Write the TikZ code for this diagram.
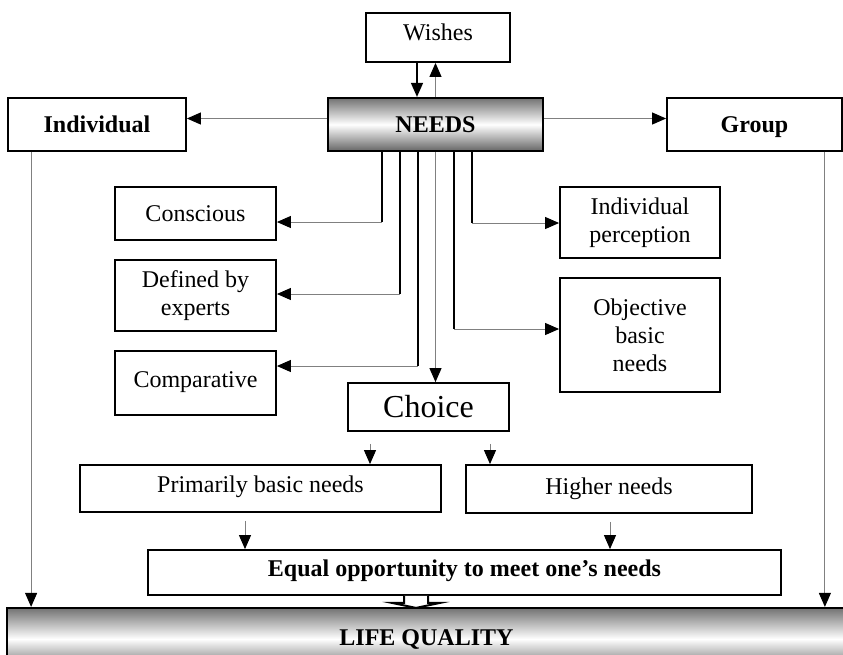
\documentclass[tikz,border=0pt]{standalone}
\usepackage{fontspec}
\setmainfont{Liberation Serif}
\usetikzlibrary{positioning}
\usetikzlibrary{shapes}
\usetikzlibrary{arrows.meta}
\usetikzlibrary{calc}

\begin{document}
\begin{tikzpicture}[x=0.5pt,y=-0.5pt,node distance=9pt,
testo/.style={draw,line width=0.9pt,align=center,inner sep=0pt,font=\fontsize{12}{14}\selectfont},
grassetto/.style={testo,font=\fontsize{12}{14}\selectfont\bfseries},
sfumato/.style={grassetto,top color=black!55,bottom color=black!60,middle color=white,line width=1.1pt},
freccia/.style={-{Triangle[length=7pt,width=6pt,color=black]}},
nero/.style={black,line width=0.75pt},
grigio/.style={black!50,line width=0.5pt}
]
\useasboundingbox (0,0) rectangle (843,655);
%--
\node[testo,minimum width=72pt,minimum height=24.5pt,text depth=5pt](wishes) at (438,37.5){Wishes};
\node[sfumato,minimum width=107.5pt,minimum height=26.5pt](needs) at (435.5,124.5){NEEDS};
\draw[nero,freccia] ($(wishes.south)+(-21,0)$) coordinate (w1) -- (w1 |- needs.north);
\draw[grigio,freccia] (needs.north) -- (needs.north |- wishes.south);
%--
\node[grassetto,minimum width=89pt,minimum height=26.5pt](indiv) at (97,124.5){Individual};
\node[grassetto,minimum width=87.5pt,minimum height=26.5pt,text depth=0pt](group) at (754.5,124.5){Group};
\draw[grigio,freccia] ($(needs.west)+(0,-6)$) coordinate (n1) -- (n1 -| indiv.east);
\draw[grigio,freccia] ($(needs.east)+(0,-6)$) coordinate (n2) -- (n2 -| group.west);
%--
\node[testo,minimum width=80.5pt,minimum height=26.5pt](consc) at (195.5,213.5){Conscious};
\node[testo,minimum width=80.5pt,minimum height=35.5pt,below=of consc](defin){Defined by\\experts};
\node[testo,minimum width=80.5pt,minimum height=32pt,below=of defin](compar){Comparative};
\node[testo,minimum width=80pt,minimum height=35.5pt](perc) at (640,222.5){Individual\\perception};
\node[testo,minimum width=80pt,minimum height=57pt,below=of perc](obj){Objective\\basic\\needs};
%--
\coordinate (k1) at (382,222);
\coordinate (k2) at (400,294);
\coordinate (k3) at (418,366);
\coordinate (k5) at (454,329);
\coordinate (k6) at (472,223);
\draw[nero] (needs.south -| k1) -- (k1);
\draw[grigio,freccia] (k1) -- (k1 -| consc.east);
\draw[nero] (needs.south -| k2) -- (k2);
\draw[grigio,freccia] (k2) -- (k2 -| defin.east);
\draw[nero] (needs.south -| k3) -- (k3);
\draw[grigio,freccia] (k3) -- (k3 -| compar.east);
\draw[nero] (needs.south -| k5) -- (k5);
\draw[grigio,freccia] (k5) -- (k5 -| obj.west);
\draw[nero] (needs.south -| k6) -- (k6);
\draw[grigio,freccia] (k6) -- (k6 -| perc.west);
%--
\node[testo,minimum width=80.5pt,minimum height=24pt,font=\fontsize{16}{18}\selectfont](choice) at (428.5,407){Choice};
\draw[grigio,freccia] (needs.south) -- (needs.south |- choice.north);
%--
\node[testo,minimum width=180.5pt,minimum height=23.5pt,text depth=4pt](prim) at (260.5,488.5){Primarily basic needs};
\node[testo,minimum width=143pt,minimum height=24pt](higher) at (609,489){Higher needs};
\draw[grigio,freccia] ($(choice.south)+(-58.5,12)$) coordinate (c1) -- (c1 |- prim.north);
\draw[grigio,freccia] ($(choice.south)+(61.5,12)$) coordinate (c2) -- (c2 |- higher.north);
%--
\node[grassetto,minimum width=316.5pt,minimum height=22.5pt,text depth=4pt](equal) at (464.5,572.5){Equal opportunity to meet one’s needs};
\draw[grigio,freccia] ($(prim.south)+(-15.5,8)$) coordinate (p1) -- (p1 |- equal.north);
\draw[grigio,freccia] ($(higher.south)+(1,8)$) coordinate (p2) -- (p2 |- equal.north);
%--
\node[sfumato,minimum width=419.5pt,minimum height=31pt](life) at (426.5,639){LIFE QUALITY};
\draw[grigio,freccia] ($(indiv.south west)+(24,0)$) coordinate (i1) -- (i1 |- life.north);
\draw[grigio,freccia] ($(group.south east)+(-18,0)$) coordinate (g1) -- (g1 |- life.north);
%--
\coordinate (d0) at ($(equal.south)+(-48.5,0)$);
\draw[line width=1pt,fill=white] ($(d0)+(-12,0)$) -- ($(d0)+(-12,7)$) -- ($(d0)+(-24,7)$) -- ($(d0 |- life.north)+(0,1)$) -- ($(d0)+(24,7)$) -- ($(d0)+(12,7)$) -- ($(d0)+(12,0)$);
\end{tikzpicture}
\end{document}
